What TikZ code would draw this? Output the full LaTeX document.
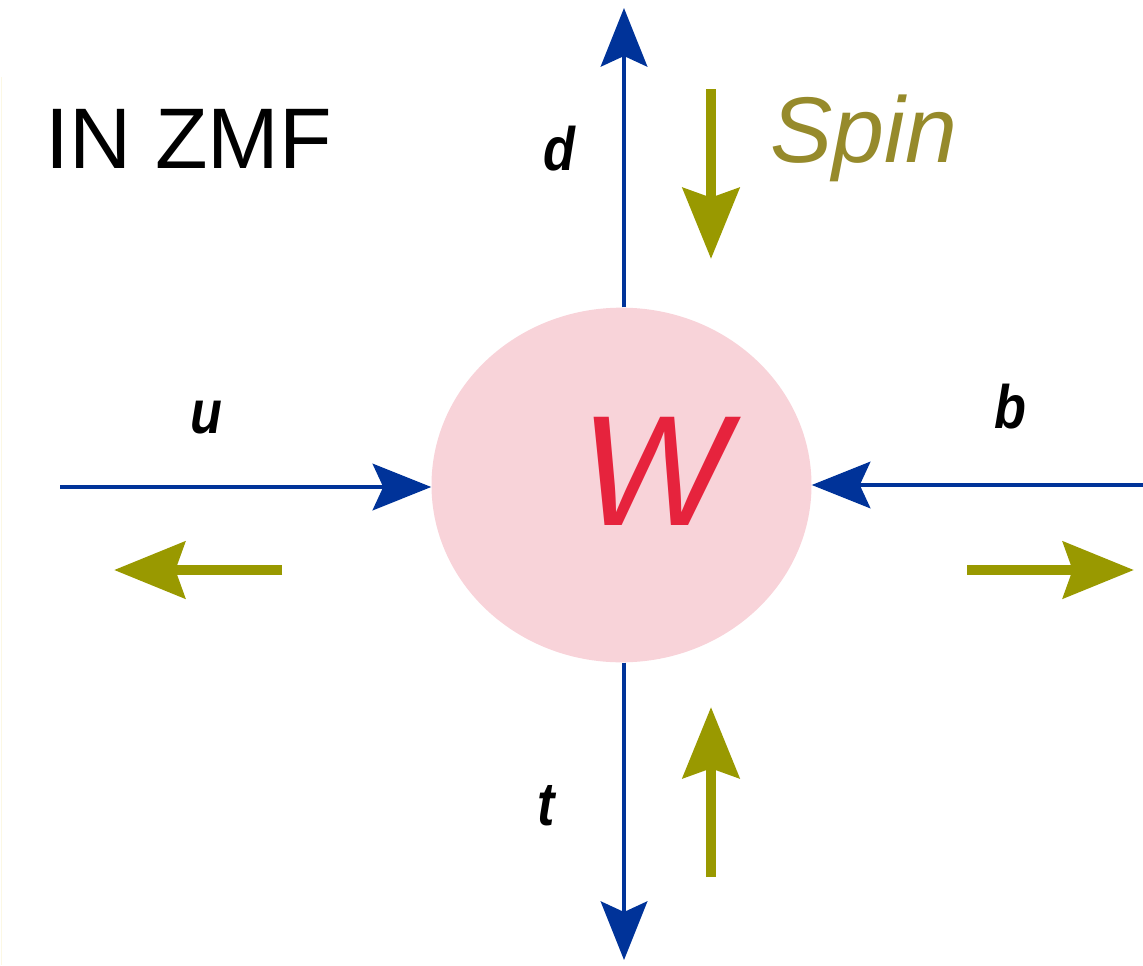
\documentclass[tikz,border=0pt]{standalone}
\usepackage{fontspec}
\setmainfont{Liberation Sans}
\usetikzlibrary{arrows.meta,shapes.geometric}
\definecolor{qblue}{HTML}{003399}
\definecolor{olive}{HTML}{999900}
\definecolor{blobpink}{HTML}{F8D3D9}
\definecolor{wred}{HTML}{E6233D}
\definecolor{spincol}{HTML}{968A2B}
\definecolor{edgecream}{HTML}{FCF8E4}
\tikzset{
  momentum/.style={draw=qblue, line width=2.4pt,
    -{Stealth[length=44pt, width=35pt, inset=8pt]}},
  spinarrow/.style={draw=olive, line width=8.2pt,
    -{Stealth[length=53pt, width=42pt, inset=7pt]}},
  quark/.style={font=\fontsize{46}{46}\selectfont\bfseries\itshape, inner sep=0pt, xscale=0.85, transform shape},
  bigtext/.style={font=\fontsize{64.5}{64.5}\selectfont, inner sep=0pt, anchor=base west}
}
\begin{document}
\begin{tikzpicture}[x=0.75pt, y=-0.75pt]
\useasboundingbox (0,0) rectangle (1143,965);
% faint left edge line
\draw[edgecream, line width=1.4pt] (1.5,77) -- (1.5,965);
% central blob
\node[ellipse, fill=blobpink, minimum width=285pt, minimum height=266pt, inner sep=0pt] (W) at (621.5,485) {};
\node[font=\fontsize{118}{118}\selectfont\itshape, text=wred, inner sep=0pt] (Wlabel) at (655,471) {W};
% free ends
\coordinate (dtip) at (624,8);
\coordinate (ttip) at (624,960);
\coordinate (ustart) at (60,487);
\coordinate (bstart) at (1143,485);
% momentum arrows
\draw[momentum] (dtip |- W.north) -- (dtip);
\draw[momentum] (ttip |- W.south) -- (ttip);
\draw[momentum] (ustart) -- (ustart -| W.west);
\draw[momentum] (bstart) -- (bstart -| W.east);
% spin arrows
\coordinate (sd0) at (711,89);  \coordinate (sd1) at (711,259);
\coordinate (st0) at (711,877); \coordinate (st1) at (711,707);
\coordinate (su0) at (282,570); \coordinate (su1) at (114,570);
\coordinate (sb0) at (967,570); \coordinate (sb1) at (1134,570);
\draw[spinarrow] (sd0) -- (sd1);
\draw[spinarrow] (st0) -- (st1);
\draw[spinarrow] (su0) -- (su1);
\draw[spinarrow] (sb0) -- (sb1);
% quark labels
\node[quark] (dlab) at (559,149) {d};
\node[quark] (ulab) at (206,418) {u};
\node[quark] (blab) at (1010,407) {b};
\node[quark] (tlab) at (546,806) {t};
% titles
\node[bigtext] (inzmf) at (45,168) {IN ZMF};
\node[bigtext, text=spincol, font=\fontsize{70}{70}\selectfont\itshape] (spin) at (770,162) {Spin};
\end{tikzpicture}
\end{document}
